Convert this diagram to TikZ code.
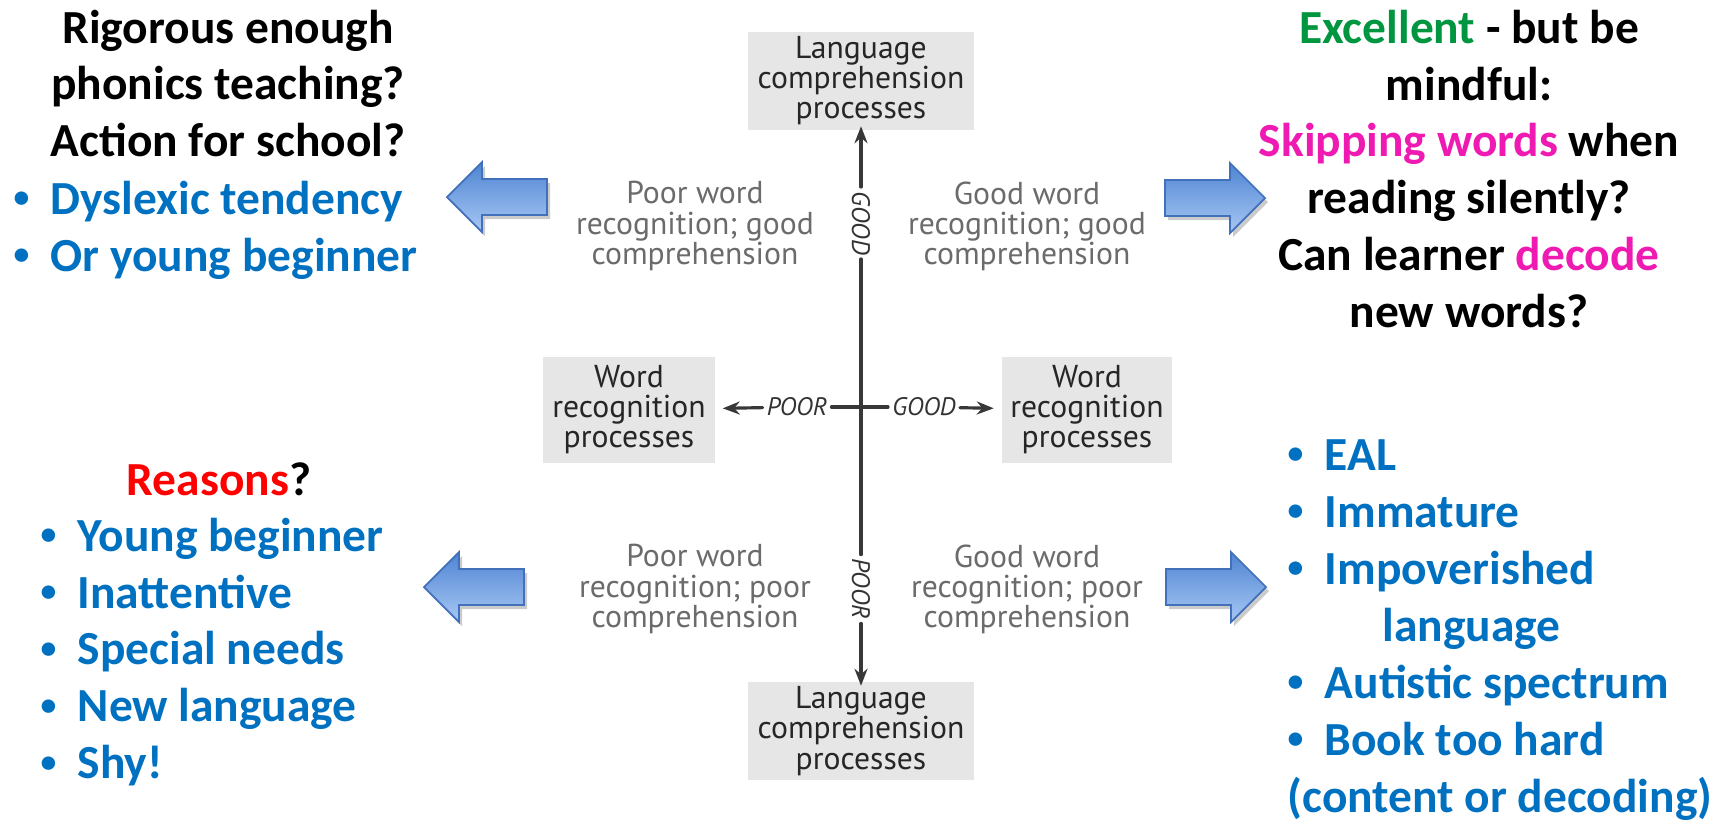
\documentclass[tikz,border=0pt]{standalone}
\usepackage{fontspec}
\setmainfont{Carlito}
\newfontfamily\figfont{PT Sans}
\usepackage{tikz}
\usetikzlibrary{arrows.meta}
\usepackage{xcolor}
\definecolor{txtblue}{RGB}{0,112,192}
\definecolor{txtgreen}{RGB}{0,150,64}
\definecolor{txtpink}{RGB}{238,26,178}
\definecolor{txtred}{RGB}{255,0,0}
\definecolor{boxgray}{RGB}{230,230,230}
\definecolor{arrowdark}{RGB}{78,132,210}
\definecolor{arrowlight}{RGB}{168,200,244}
\definecolor{arrowedge}{RGB}{66,112,186}
\newcommand{\blt}{\makebox[0.37cm][l]{\raisebox{0.3ex}{\fontsize{9}{9}\selectfont\textbullet}}}

\begin{document}
\begin{tikzpicture}[x=0.01cm,y=-0.01cm,>={Stealth[length=1.7mm,width=1.3mm]},line cap=round,
  bigtxt/.style={inner sep=0pt,font=\bfseries\fontsize{13.5}{16.2}\selectfont},
  procbox/.style={fill=boxgray,text=black!85,inner sep=0pt,align=center,font=\figfont\fontsize{9}{8.55}\selectfont},
  quadtxt/.style={text=black!58,inner sep=0pt,align=center,font=\figfont\fontsize{9}{8.55}\selectfont},
  axlabel/.style={text=black!80,inner sep=0.035cm,font=\figfont\itshape\fontsize{7.2}{8}\selectfont},
  axline/.style={draw=black!78,line width=0.9pt},
  bluearrow/.style={top color=arrowdark,bottom color=arrowlight,draw=arrowedge,line width=0.5pt,line join=miter}]
\useasboundingbox (0,0) rectangle (1727,823);

% the four quadrants
\node[procbox,minimum width=2.26cm,minimum height=0.97cm] (langTop) at (861,81) {Language\\comprehension\\processes};
\node[procbox,minimum width=2.26cm,minimum height=0.97cm] (langBot) at (861,731) {Language\\comprehension\\processes};
\node[procbox,minimum width=1.72cm,minimum height=1.06cm] (wordL) at (629,410) {Word\\recognition\\processes};
\node[procbox,minimum width=1.69cm,minimum height=1.06cm] (wordR) at (1087,410) {Word\\recognition\\processes};

\node[axlabel,rotate=-90] (goodV) at (861,223) {GOOD};
\node[axlabel,rotate=-90] (poorV) at (861,589) {POOR};
\node[axlabel] (poorH) at (797,407) {POOR};
\node[axlabel] (goodH) at (924,407) {GOOD};

\draw[axline,->,shorten >=-0.04cm] (goodV) -- (langTop);
\draw[axline] (goodV) -- (poorV);
\draw[axline,->,shorten >=-0.04cm] (poorV) -- (langBot);
\draw[axline,->,shorten >=0.07cm] (poorH) -- (wordL);
\draw[axline] (poorH) -- (goodH);
\draw[axline,->,shorten >=0.08cm] (goodH) -- (wordR);

\node[quadtxt] (qTL) at (695,226) {Poor word\\recognition; good\\comprehension};
\node[quadtxt] (qTR) at (1027,226) {Good word\\recognition; good\\comprehension};
\node[quadtxt] (qBL) at (695,589) {Poor word\\recognition; poor\\comprehension};
\node[quadtxt] (qBR) at (1027,589) {Good word\\recognition; poor\\comprehension};

% block arrows
\foreach \tx/\ty/\s in {447/197/1,424/587/1,1265/198/-1,1266/587/-1}{
  \fill[black!45,opacity=0.45] ({\tx+3},{\ty+4}) -- ++({35*\s},-35) -- ++(0,17) -- ++({65*\s},0) -- ++(0,36) -- ++({-65*\s},0) -- ++(0,17) -- cycle;
  \path[bluearrow] (\tx,\ty) -- ++({35*\s},-35) -- ++(0,17) -- ++({65*\s},0) -- ++(0,36) -- ++({-65*\s},0) -- ++(0,17) -- cycle;
}

% comments round the chart
\node[bigtxt,anchor=north,align=center] (headTL) at (228,9) {Rigorous enough\\phonics teaching?\\Action for school?};
\node[bigtxt,anchor=north west,align=left,text=txtblue] (listTL) at (13,180) {\blt Dyslexic tendency\\\blt Or young beginner};

\node[bigtxt,anchor=north,align=center] (headTR) at (1469,9) {{\color{txtgreen}Excellent} - but be\\mindful:\\{\color{txtpink}Skipping words} when\\reading silently?\\Can learner {\color{txtpink}decode}\\new words?};

\node[bigtxt,anchor=north] (headBL) at (219,462) {{\color{txtred}Reasons}?};
\node[bigtxt,anchor=north west,align=left,text=txtblue] (listBL) at (40,517) {\blt Young beginner\\\blt Inattentive\\\blt Special needs\\\blt New language\\\blt Shy!};

\node[bigtxt,anchor=north west,align=left,text=txtblue] (listBR) at (1287,439) {\blt EAL\\\blt Immature\\\blt Impoverished\\\hspace*{0.95cm}language\\\blt Autistic spectrum\\\blt Book too hard\\(content or decoding)};
\end{tikzpicture}
\end{document}
